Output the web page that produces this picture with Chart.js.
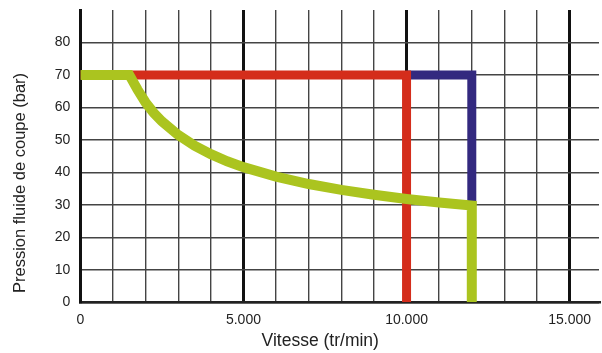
<!DOCTYPE html>
<html>
<head>
<meta charset="utf-8">
<script src="https://cdn.jsdelivr.net/npm/chart.js@4"></script>
<style>
  html, body { margin: 0; padding: 0; background: #fff; }
  #wrap { width: 602px; height: 353px; }
</style>
</head>
<body>
<div id="wrap"><canvas id="grafico"></canvas></div>
<script>
// datos (vitesse en tr/min, pression en bar)
const vitesseVert = [0, 1500, 1750, 2000, 2250, 2500, 3000, 3500, 4000, 4500, 5000, 6000, 7000, 8000, 9000, 10000, 11000, 12000, 12000];
const pressionVert = [70, 70, 65.5, 61.5, 58.3, 55.7, 51.5, 48.2, 45.6, 43.4, 41.6, 38.7, 36.4, 34.6, 33.1, 31.8, 30.7, 29.8, 0];

const vitesseRouge = [0, 10000, 10000];
const pressionRouge = [70, 70, 0];

const vitesseBleu = [10000, 12000, 12000];
const pressionBleu = [70, 70, 29.8];

// graduations : toutes les 1000 tr/min et 10 bar, etiquettes seulement pour celles-ci
const ticksX = [0, 5000, 10000, 15000];
const ticksY = [0, 10, 20, 30, 40, 50, 60, 70, 80];
const gradX = [0, 1000, 2000, 3000, 4000, 5000, 6000, 7000, 8000, 9000, 10000, 11000, 12000, 13000, 14000, 15000];

const toPoints = (xs, ys) => xs.map((x, i) => ({ x: x, y: ys[i] }));

const fuente = "'Liberation Sans', Arial, sans-serif";
const formatearMiles = n => String(n).replace(/\B(?=(\d{3})+(?!\d))/g, ".");

const ctx = document.querySelector("#grafico").getContext("2d");
new Chart(ctx, {
    type: "line",
    data: {
        datasets: [
            { data: toPoints(vitesseVert, pressionVert), borderColor: "#abc41f", borderWidth: 10, order: 1 },
            { data: toPoints(vitesseRouge, pressionRouge), borderColor: "#d42d1b", borderWidth: 9, order: 2 },
            { data: toPoints(vitesseBleu, pressionBleu), borderColor: "#33297f", borderWidth: 9, order: 3 }
        ]
    },
    options: {
        responsive: true,
        maintainAspectRatio: false,
        animation: false,
        parsing: false,
        layout: { padding: { top: 10, right: 3, left: 0, bottom: 1 } },
        elements: {
            point: { radius: 0, hoverRadius: 0 },
            line: { tension: 0, borderCapStyle: "butt", borderJoinStyle: "miter", fill: false }
        },
        plugins: { legend: { display: false }, tooltip: { enabled: false } },
        scales: {
            x: {
                type: "linear",
                min: 0,
                max: 15900,
                afterBuildTicks: scale => { scale.ticks = gradX.map(v => ({ value: v })); },
                ticks: {
                    autoSkip: false,
                    maxRotation: 0,
                    padding: 10,
                    color: "#222",
                    font: { family: fuente, size: 14 },
                    callback: v => ticksX.includes(v) ? formatearMiles(v) : ""
                },
                grid: {
                    drawTicks: false,
                    color: c => (c.tick && c.tick.value % 5000 === 0 ? "#111" : "#444"),
                    lineWidth: c => (c.tick && c.tick.value % 5000 === 0 ? 3 : 1.4)
                },
                border: { color: "#222", width: 2.5 },
                title: {
                    display: true,
                    text: "Vitesse (tr/min)        ",
                    color: "#222",
                    font: { family: fuente, size: 17.5 },
                    padding: { top: -8, bottom: 0 }
                }
            },
            y: {
                min: 0,
                max: 90,
                afterBuildTicks: scale => { scale.ticks = ticksY.map(v => ({ value: v })); },
                // pas de marge en haut : la graduation 90 n'a pas d'etiquette
                afterFit: scale => { scale.paddingTop = 0; },
                ticks: {
                    padding: 10,
                    color: "#222",
                    font: { family: fuente, size: 14 },
                    callback: v => String(v)
                },
                grid: {
                    drawTicks: false,
                    color: "#444",
                    lineWidth: 1.4
                },
                border: { color: "#111", width: 3 },
                title: {
                    display: true,
                    text: "  Pression fluide de coupe (bar)",
                    align: "start",
                    color: "#222",
                    font: { family: fuente, size: 16.5 },
                    padding: { top: 11, bottom: 14 }
                }
            }
        }
    }
});
</script>
</body>
</html>
